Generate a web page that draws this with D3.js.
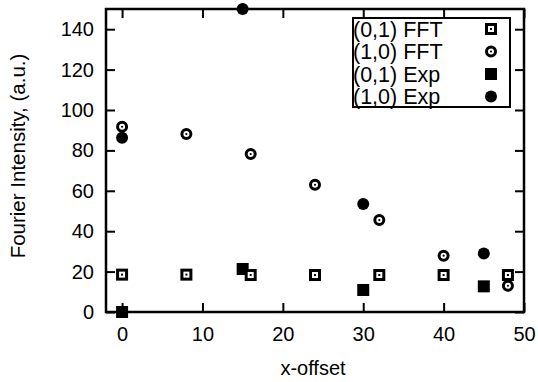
<!DOCTYPE html>
<html>
<head>
<meta charset="utf-8">
<script src="https://cdn.jsdelivr.net/npm/d3@7"></script>
<style>
  html, body { margin: 0; padding: 0; background: #fff; }
  svg { display: block; }
  text { font-family: "Liberation Sans", Arial, Helvetica, sans-serif; fill: #000; }
</style>
</head>
<body>
<svg id="chart" width="538" height="382"></svg>
<script>
// Fourier intensity of the (0,1) and (1,0) peaks versus x-offset
const fftOffsets = [0, 8, 16, 24, 32, 40, 48];
const fft01 = [18.5, 18.5, 18.3, 18.3, 18.3, 18.3, 18.3];
const fft10 = [91.7, 88.1, 78.2, 63.0, 45.5, 27.9, 13.0];
const expOffsets = [0, 15, 30, 45];
const exp01 = [0, 21.3, 10.9, 12.7];
const exp10 = [86.3, 150, 53.5, 29.0];
const xTicks = [0, 10, 20, 30, 40, 50];
const yTicks = [0, 20, 40, 60, 80, 100, 120, 140];
const legendLabels = ["(0,1) FFT", "(1,0) FFT", "(0,1) Exp", "(1,0) Exp"];

const svg = d3.select("#chart");
const m = { left: 106, right: 14, top: 9, bottom: 70 };
const W = 538, H = 382;
const x = d3.scaleLinear().domain([-2, 50]).range([m.left, W - m.right]);
const y = d3.scaleLinear().domain([0, 150]).range([H - m.bottom, m.top]);

const tickLen = 9;
const axisStyle = g => {
  g.select(".domain").remove();
  g.selectAll(".tick line").attr("stroke", "#000").attr("stroke-width", 2);
  g.selectAll(".tick text").attr("font-size", 20).attr("fill", "#000")
    .attr("font-family", "Liberation Sans, Arial, sans-serif");
};

// bottom axis, ticks pointing inward
svg.append("g").attr("transform", `translate(0,${y(0)})`)
  .call(d3.axisBottom(x).tickValues(xTicks).tickSize(-tickLen).tickPadding(15))
  .call(axisStyle);
// top axis, ticks only
svg.append("g").attr("transform", `translate(0,${m.top})`)
  .call(d3.axisTop(x).tickValues(xTicks).tickSize(-tickLen).tickFormat(""))
  .call(axisStyle);
// left axis
svg.append("g").attr("transform", `translate(${m.left},0)`)
  .call(d3.axisLeft(y).tickValues(yTicks).tickSize(-tickLen).tickPadding(12))
  .call(axisStyle);
// right axis, ticks only
svg.append("g").attr("transform", `translate(${W - m.right},0)`)
  .call(d3.axisRight(y).tickValues(yTicks).tickSize(-tickLen).tickFormat(""))
  .call(axisStyle);

// plot frame
svg.append("rect")
  .attr("x", m.left).attr("y", m.top)
  .attr("width", W - m.right - m.left).attr("height", y(0) - m.top)
  .attr("fill", "none").attr("stroke", "#000").attr("stroke-width", 2.5);

// axis titles
svg.append("text")
  .attr("x", 313).attr("y", 375)
  .attr("text-anchor", "middle").attr("font-size", 20).text("x-offset");
svg.append("text")
  .attr("transform", "translate(25,156) rotate(-90)")
  .attr("text-anchor", "middle").attr("font-size", 20.5).text("Fourier Intensity, (a.u.)");

// marker painters
const S = 12, SW = 3;
const markers = {
  openSquare: (g) => {
    g.append("rect").attr("x", -S / 2 + SW / 2).attr("y", -S / 2 + SW / 2)
      .attr("width", S - SW).attr("height", S - SW)
      .attr("fill", "#fff").attr("stroke", "#000").attr("stroke-width", SW);
    g.append("rect").attr("x", -1).attr("y", -1).attr("width", 2).attr("height", 2).attr("fill", "#000");
  },
  openCircle: (g) => {
    g.append("circle").attr("r", S / 2 - SW / 2)
      .attr("fill", "#fff").attr("stroke", "#000").attr("stroke-width", SW);
    g.append("circle").attr("r", 1.1).attr("fill", "#000");
  },
  filledSquare: (g) => {
    g.append("rect").attr("x", -S / 2).attr("y", -S / 2)
      .attr("width", S).attr("height", S).attr("fill", "#000");
  },
  filledCircle: (g) => {
    g.append("circle").attr("r", S / 2).attr("fill", "#000");
  }
};

function drawSeries(xs, ys, kind) {
  const pts = xs.map((v, i) => [v, ys[i]]);
  svg.append("g").selectAll("g").data(pts).join("g")
    .attr("transform", d => `translate(${x(d[0])},${y(d[1])})`)
    .each(function () { markers[kind](d3.select(this)); });
}

drawSeries(expOffsets, exp01, "filledSquare");
drawSeries(expOffsets, exp10, "filledCircle");
drawSeries(fftOffsets, fft01, "openSquare");
drawSeries(fftOffsets, fft10, "openCircle");

// legend
const legend = svg.append("g").attr("transform", "translate(353,18)");
legend.append("rect").attr("width", 157).attr("height", 89)
  .attr("fill", "#fff").attr("stroke", "#000").attr("stroke-width", 2);
const kinds = ["openSquare", "openCircle", "filledSquare", "filledCircle"];
legendLabels.forEach((lab, i) => {
  const cy = 11 + i * 22.5;
  legend.append("text").attr("x", 0).attr("y", cy + 7.5)
    .attr("font-size", 21.5).text(lab);
  const g = legend.append("g").attr("transform", `translate(138,${cy})`);
  markers[kinds[i]](g);
});
</script>
</body>
</html>
